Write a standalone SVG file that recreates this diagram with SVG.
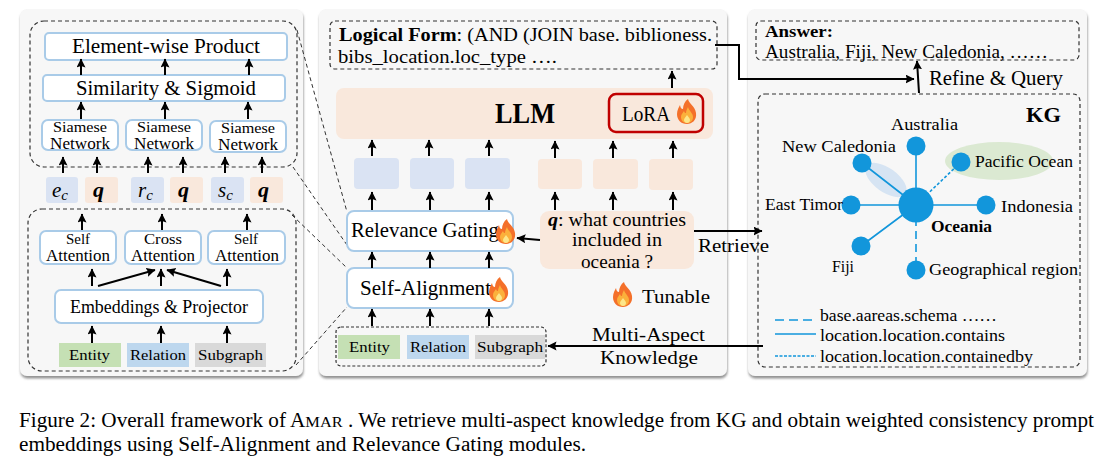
<svg xmlns="http://www.w3.org/2000/svg" width="1105" height="464" viewBox="0 0 1105 464">
<style>
text{font-family:"Liberation Serif","DejaVu Serif",serif;fill:#000}
.b{font-weight:bold}
.panel{fill:#f7f7f7;filter:url(#sh)}
.dash{fill:none;stroke:#333;stroke-width:1.2;stroke-dasharray:4 3}
.zoom{fill:none;stroke:#333;stroke-width:1;stroke-dasharray:4 3}
.box{fill:#fff;stroke:#a9cbe8;stroke-width:2}
.tb{fill:#dae3f3}
.tp{fill:#f9e8dc}
.ent{fill:#c5e0b4}
.rel{fill:#bdd7ee}
.sub{fill:#d9d9d9}
.ar{fill:none;stroke:#000;stroke-width:2;marker-end:url(#ah)}
.kn{fill:#1296db}
.ke{stroke:#1296db;stroke-width:1.6;fill:none}
</style>
<defs>
<filter id="sh" x="-5%" y="-5%" width="110%" height="110%"><feDropShadow dx="0.500" dy="2.500" stdDeviation="1.200" flood-color="#777" flood-opacity="0.800"/></filter>
<marker id="ah" markerUnits="userSpaceOnUse" markerWidth="10" markerHeight="10" refX="8.500" refY="4.500" orient="auto">
<path d="M0 0L9 4.500L0 9L1.500 4.500Z" fill="#000"/>
</marker>
<g id="flame">
<path d="M1-13C2-8 8-6 9 1C10 8 5 12 0 12C-6 12-10 8-10 2C-10-2-8-5-7-7C-6.500-4-5.500-3-4-3C-4-7-2-11 1-13Z" fill="#f4702a"/>
<path d="M1-5C2-1 6 1 6 5C6 9 3 11 0 11C-4 11-6 8-6 5C-6 2-4 1-3 -1C-2.500 1-1.500 1-1 1C-1-1 0-3 1-5Z" fill="#fbb03b"/>
<path d="M0 3C1 5 3 6 3 8C3 10 1.500 11 0 11C-2 11-3 9.500-3 8C-3 6-1 5 0 3Z" fill="#fde68a"/>
</g>
</defs>

<g id="panels">
<rect class="panel" x="20" y="9" width="283" height="367" rx="7"/>
<rect class="panel" x="319" y="9" width="408" height="367" rx="7"/>
<rect class="panel" x="748" y="9" width="339" height="367" rx="7"/>
</g>

<g id="detail-frames">
<rect class="dash" x="30" y="21" width="267" height="146" rx="14"/>
<rect class="dash" x="28" y="209" width="268" height="162" rx="14"/>
<path class="zoom" d="M297 30L347 212M293 167L347 245M292 215L347 268M296 365L347 307"/>
</g>

<g id="element-wise-product"><rect class="box" x="45" y="33" width="242" height="27" rx="4"/><text x="72" y="53" font-size="21" textLength="188" lengthAdjust="spacingAndGlyphs">Element-wise Product</text></g>
<g id="similarity-sigmoid"><rect class="box" x="43" y="75" width="242" height="26" rx="4"/><text x="76" y="95" font-size="21" textLength="180" lengthAdjust="spacingAndGlyphs">Similarity &amp; Sigmoid</text></g>
<g id="siamese-1"><rect class="box" x="42" y="120" width="76" height="30" rx="6"/><text x="53" y="132" font-size="15" textLength="54" lengthAdjust="spacingAndGlyphs">Siamese</text><text x="50" y="149" font-size="16" textLength="60" lengthAdjust="spacingAndGlyphs">Network</text></g>
<g id="siamese-2"><rect class="box" x="126" y="120" width="76" height="30" rx="6"/><text x="137" y="132" font-size="15" textLength="54" lengthAdjust="spacingAndGlyphs">Siamese</text><text x="134" y="149" font-size="16" textLength="60" lengthAdjust="spacingAndGlyphs">Network</text></g>
<g id="siamese-3"><rect class="box" x="210" y="121" width="76" height="31" rx="6"/><text x="221" y="133" font-size="15" textLength="54" lengthAdjust="spacingAndGlyphs">Siamese</text><text x="218" y="150" font-size="16" textLength="60" lengthAdjust="spacingAndGlyphs">Network</text></g>

<g id="token-ec"><rect class="tb" x="46" y="177" width="32" height="26" rx="3"/><text x="52" y="197" font-size="21" font-style="italic">e<tspan font-size="15" dy="3">c</tspan></text></g>
<g id="token-q1"><rect class="tp" x="85" y="177" width="33" height="26" rx="3"/><text x="93" y="197" font-size="22" font-style="italic" font-weight="bold">q</text></g>
<g id="token-rc"><rect class="tb" x="131" y="177" width="33" height="26" rx="3"/><text x="138" y="197" font-size="21" font-style="italic">r<tspan font-size="15" dy="3">c</tspan></text></g>
<g id="token-q2"><rect class="tp" x="170" y="177" width="33" height="26" rx="3"/><text x="178" y="197" font-size="22" font-style="italic" font-weight="bold">q</text></g>
<g id="token-sc"><rect class="tb" x="211" y="177" width="33" height="26" rx="3"/><text x="218" y="197" font-size="21" font-style="italic">s<tspan font-size="15" dy="3">c</tspan></text></g>
<g id="token-q3"><rect class="tp" x="250" y="177" width="33" height="26" rx="3"/><text x="258" y="197" font-size="22" font-style="italic" font-weight="bold">q</text></g>

<g id="self-attention-1"><rect class="box" x="40" y="231" width="76" height="33" rx="6"/><text x="66" y="244" font-size="15" textLength="24" lengthAdjust="spacingAndGlyphs">Self</text><text x="46" y="261" font-size="16" textLength="64" lengthAdjust="spacingAndGlyphs">Attention</text></g>
<g id="cross-attention"><rect class="box" x="125" y="231" width="76" height="33" rx="6"/><text x="144" y="244" font-size="15" textLength="38" lengthAdjust="spacingAndGlyphs">Cross</text><text x="131" y="261" font-size="16" textLength="64" lengthAdjust="spacingAndGlyphs">Attention</text></g>
<g id="self-attention-2"><rect class="box" x="208" y="231" width="77" height="33" rx="6"/><text x="234" y="244" font-size="15" textLength="24" lengthAdjust="spacingAndGlyphs">Self</text><text x="215" y="261" font-size="16" textLength="64" lengthAdjust="spacingAndGlyphs">Attention</text></g>
<g id="embeddings-projector"><rect class="box" x="55" y="290" width="208" height="33" rx="6"/><text x="70" y="313" font-size="19" textLength="178" lengthAdjust="spacingAndGlyphs">Embeddings &amp; Projector</text></g>
<g id="left-entity"><rect class="ent" x="59" y="343" width="62" height="24"/><text x="69" y="360" font-size="15.500" textLength="41" lengthAdjust="spacingAndGlyphs">Entity</text></g>
<g id="left-relation"><rect class="rel" x="127" y="343" width="62" height="24"/><text x="130" y="360" font-size="15.500" textLength="56" lengthAdjust="spacingAndGlyphs">Relation</text></g>
<g id="left-subgraph"><rect class="sub" x="195" y="343" width="71" height="24"/><text x="198" y="360" font-size="15.500" textLength="65" lengthAdjust="spacingAndGlyphs">Subgraph</text></g>

<g id="logical-form"><rect class="dash" x="330" y="21" width="387" height="48" rx="5"/>
<text x="339" y="41" font-size="18.500" textLength="373" lengthAdjust="spacingAndGlyphs"><tspan class="b">Logical Form</tspan>: (AND (JOIN base. biblioness.</text>
<text x="338" y="63" font-size="18.500" textLength="219" lengthAdjust="spacingAndGlyphs">bibs_location.loc_type ….</text></g>
<g id="llm"><rect class="tp" x="336" y="88" width="377" height="51" rx="8"/><text class="b" x="495" y="123" font-size="29" textLength="60" lengthAdjust="spacingAndGlyphs">LLM</text></g>
<g id="lora"><rect fill="#f9e8dc" stroke="#c00000" stroke-width="2.500" x="609" y="94" width="94" height="38" rx="7"/><text x="622" y="121" font-size="20" textLength="48" lengthAdjust="spacingAndGlyphs">LoRA</text><use href="#flame" transform="translate(687 112)"/></g>
<g id="prompt-blue-1"><rect class="tb" x="354" y="158" width="45" height="31" rx="4"/></g>
<g id="prompt-blue-2"><rect class="tb" x="410" y="158" width="44" height="31" rx="4"/></g>
<g id="prompt-blue-3"><rect class="tb" x="465" y="158" width="45" height="31" rx="4"/></g>
<g id="prompt-peach-1"><rect class="tp" x="538" y="159" width="44" height="30" rx="4"/></g>
<g id="prompt-peach-2"><rect class="tp" x="593" y="159" width="45" height="30" rx="4"/></g>
<g id="prompt-peach-3"><rect class="tp" x="649" y="159" width="44" height="31" rx="4"/></g>
<g id="relevance-gating"><rect class="box" x="347" y="211" width="166" height="40" rx="7"/><text x="351" y="237" font-size="21" textLength="148" lengthAdjust="spacingAndGlyphs">Relevance Gating</text><use href="#flame" transform="translate(506 232)"/></g>
<g id="self-alignment"><rect class="box" x="347" y="268" width="166" height="40" rx="7"/><text x="360" y="295" font-size="21" textLength="131" lengthAdjust="spacingAndGlyphs">Self-Alignment</text><use href="#flame" transform="translate(499 290)"/></g>
<g id="question"><rect class="tp" x="540" y="211" width="154" height="58" rx="9"/>
<text x="548" y="226" font-size="18.500" textLength="138" lengthAdjust="spacingAndGlyphs"><tspan font-style="italic" font-weight="bold">q</tspan>: what countries</text>
<text x="572" y="246" font-size="18.500" textLength="90" lengthAdjust="spacingAndGlyphs">included in</text>
<text x="581" y="268" font-size="18.500" textLength="72" lengthAdjust="spacingAndGlyphs">oceania ?</text></g>
<g id="tunable"><use href="#flame" transform="translate(623 295)"/><text x="642" y="303" font-size="19.500" textLength="68" lengthAdjust="spacingAndGlyphs">Tunable</text></g>
<g id="knowledge"><rect fill="none" stroke="#333" stroke-width="1.200" stroke-dasharray="3 2" x="336" y="327" width="210" height="39" rx="5"/>
<rect class="ent" x="338" y="335" width="62" height="24"/><text x="349" y="352" font-size="15.500" textLength="41" lengthAdjust="spacingAndGlyphs">Entity</text>
<rect class="rel" x="407" y="335" width="62" height="24"/><text x="410" y="352" font-size="15.500" textLength="56" lengthAdjust="spacingAndGlyphs">Relation</text>
<rect class="sub" x="475" y="335" width="70" height="24"/><text x="477" y="352" font-size="15.500" textLength="66" lengthAdjust="spacingAndGlyphs">Subgraph</text></g>

<g id="answer"><rect class="dash" x="756" y="21" width="323" height="39" rx="5"/>
<text class="b" x="765" y="37" font-size="17" textLength="68" lengthAdjust="spacingAndGlyphs">Answer:</text>
<text x="765" y="58" font-size="18.500" textLength="283" lengthAdjust="spacingAndGlyphs">Australia, Fiji, New Caledonia, ……</text></g>

<g id="kg"><rect class="dash" x="758" y="94" width="322" height="273" rx="7"/>
<text class="b" x="1026" y="122" font-size="21" textLength="35" lengthAdjust="spacingAndGlyphs">KG</text>
<ellipse cx="999" cy="161" rx="54" ry="19" fill="#dbe9d2"/>
<ellipse cx="886" cy="180" rx="24" ry="12" fill="#d6e4f3" transform="rotate(36 886 180)"/>
<g id="kg-edges">
<path class="ke" d="M916 146V205M862 163L916 205M916 205H851M916 205H986M861 246L916 205"/>
<path class="ke" d="M961 162L916 205" stroke-dasharray="3 2"/>
<path class="ke" d="M916 205V270" stroke-dasharray="8 5"/>
</g>
<g id="kg-oceania"><circle class="kn" cx="916" cy="205" r="17.500"/><text class="b" x="931" y="232" font-size="16" textLength="61" lengthAdjust="spacingAndGlyphs">Oceania</text></g>
<g id="kg-australia"><circle class="kn" cx="916" cy="146" r="9.500"/><text x="891" y="130" font-size="16.500" textLength="67" lengthAdjust="spacingAndGlyphs">Australia</text></g>
<g id="kg-new-caledonia"><circle class="kn" cx="862" cy="163" r="9.500"/><text x="782" y="152" font-size="16.500" textLength="114" lengthAdjust="spacingAndGlyphs">New Caledonia</text></g>
<g id="kg-pacific"><circle class="kn" cx="961" cy="162" r="9.500"/><text x="975" y="167" font-size="16.500" textLength="98" lengthAdjust="spacingAndGlyphs">Pacific Ocean</text></g>
<g id="kg-east-timor"><circle class="kn" cx="851" cy="205" r="9.500"/><text x="765" y="210" font-size="16.500" textLength="78" lengthAdjust="spacingAndGlyphs">East Timor</text></g>
<g id="kg-indonesia"><circle class="kn" cx="986" cy="205" r="9.500"/><text x="1001" y="212" font-size="16.500" textLength="72" lengthAdjust="spacingAndGlyphs">Indonesia</text></g>
<g id="kg-fiji"><circle class="kn" cx="861" cy="246" r="9.500"/><text x="832" y="272" font-size="16.500" textLength="22" lengthAdjust="spacingAndGlyphs">Fiji</text></g>
<g id="kg-geo"><circle class="kn" cx="916" cy="270" r="9.500"/><text x="929" y="275" font-size="16.500" textLength="149" lengthAdjust="spacingAndGlyphs">Geographical region</text></g>
<g id="kg-legend">
<path class="ke" d="M775 320H816" stroke-dasharray="9 5"/>
<path class="ke" d="M775 334H816"/>
<path class="ke" d="M775 356H816" stroke-dasharray="3 1.500"/>
<text x="820" y="321" font-size="16.500" textLength="177" lengthAdjust="spacingAndGlyphs">base.aareas.schema ……</text>
<text x="820" y="341" font-size="16.500" textLength="185" lengthAdjust="spacingAndGlyphs">location.location.contains</text>
<text x="820" y="362" font-size="16.500" textLength="213" lengthAdjust="spacingAndGlyphs">location.location.containedby</text>
</g></g>

<g id="labels">
<text x="929" y="85" font-size="20.500" textLength="134" lengthAdjust="spacingAndGlyphs">Refine &amp; Query</text>
<text x="698" y="252" font-size="19.500" textLength="71" lengthAdjust="spacingAndGlyphs">Retrieve</text>
<text x="592" y="341" font-size="19.500" textLength="113" lengthAdjust="spacingAndGlyphs">Multi-Aspect</text>
<text x="600" y="364" font-size="19.500" textLength="98" lengthAdjust="spacingAndGlyphs">Knowledge</text>
</g>

<g id="connectors">
<path class="ar" d="M81 75V59"/><path class="ar" d="M165 75V59"/><path class="ar" d="M249 75V59"/>
<path class="ar" d="M81 119V102"/><path class="ar" d="M165 119V102"/><path class="ar" d="M248 119V102"/>
<path class="ar" d="M63 173V157"/><path class="ar" d="M97 173V157"/><path class="ar" d="M148 173V157"/><path class="ar" d="M183 173V157"/><path class="ar" d="M225 173V157"/><path class="ar" d="M262 173V157"/>
<path class="ar" d="M82 230V214"/><path class="ar" d="M162 230V214"/><path class="ar" d="M247 230V214"/>
<path class="ar" d="M92 286V269"/><path class="ar" d="M161 286V269"/><path class="ar" d="M227 286V269"/><path class="ar" d="M98 286L155 270"/><path class="ar" d="M221 286L167 270"/>
<path class="ar" d="M92 343V326"/><path class="ar" d="M161 343V326"/><path class="ar" d="M227 343V326"/>
<path class="ar" d="M372 156V140"/><path class="ar" d="M429 156V140"/><path class="ar" d="M489 156V140"/><path class="ar" d="M555 158V141"/><path class="ar" d="M613 158V141"/><path class="ar" d="M673 158V141"/>
<path class="ar" d="M372 210V192"/><path class="ar" d="M430 210V192"/><path class="ar" d="M489 210V192"/><path class="ar" d="M555 210V192"/><path class="ar" d="M613 210V192"/><path class="ar" d="M673 210V192"/>
<path class="ar" d="M372 268V252"/><path class="ar" d="M430 268V252"/><path class="ar" d="M489 268V252"/>
<path class="ar" d="M372 326V309"/><path class="ar" d="M430 326V309"/><path class="ar" d="M489 326V309"/>
<path class="ar" d="M672 88V71"/>
<path class="ar" d="M540 240L517 238"/>
<path class="ar" d="M694 231H762"/>
<path class="ar" d="M763 346H548"/>
<path class="ar" d="M715 45H739V79H914"/>
<path class="ar" d="M919 93L917 61"/>
</g>

<g id="caption">
<text x="19" y="427" font-size="20" textLength="1075" lengthAdjust="spacingAndGlyphs">Figure 2: Overall framework of A<tspan font-size="15.500">MAR</tspan> . We retrieve multi-aspect knowledge from KG and obtain weighted consistency prompt</text>
<text x="19" y="451" font-size="20" textLength="567" lengthAdjust="spacingAndGlyphs">embeddings using Self-Alignment and Relevance Gating modules.</text>
</g>
</svg>
